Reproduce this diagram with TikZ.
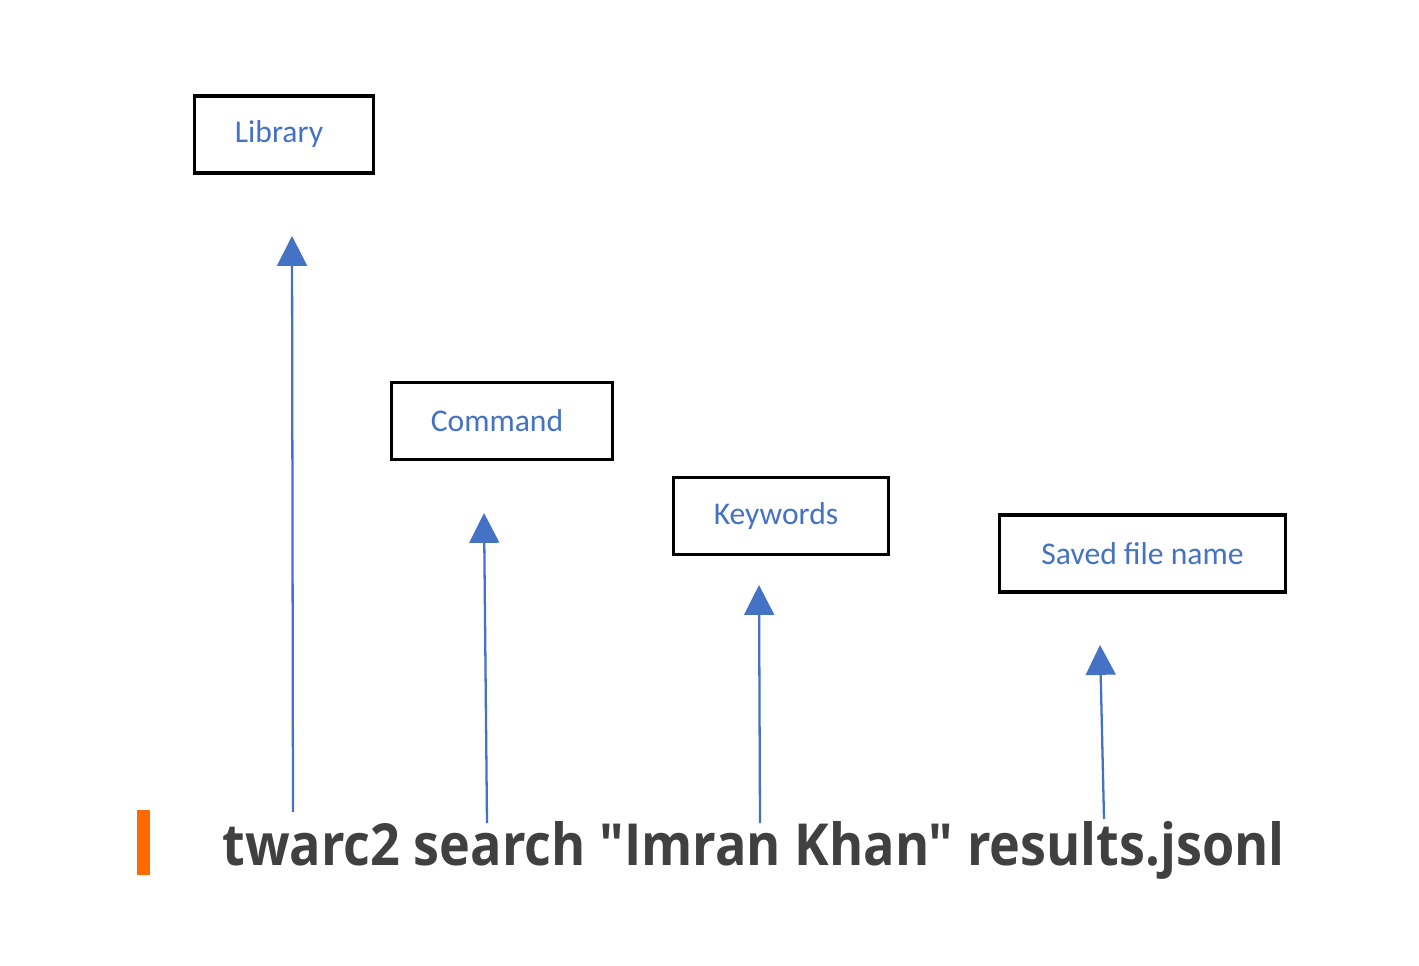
\documentclass[tikz,border=0pt]{standalone}
\usepackage{fontspec}
\setmainfont{Carlito}
\newfontfamily\cmdfont{Open Sans}
\usepackage{tikz}
\usetikzlibrary{arrows.meta,positioning}
\definecolor{labelblue}{RGB}{68,114,196}
\definecolor{cmdgray}{RGB}{64,64,64}
\definecolor{cursor}{RGB}{255,106,0}
\tikzset{
  partbox/.style={draw=black,line width=1.8pt,text=labelblue,font=\fontsize{18}{21}\selectfont,
    inner sep=0pt,minimum height=1.54cm},
  partarrow/.style={draw=labelblue,line width=1.3pt,-{Triangle[width=17pt,length=17pt]}}
}
\begin{document}
\begin{tikzpicture}[x=0.02cm,y=-0.02cm]
        \useasboundingbox (0,0) rectangle (1419,966);
        % Las cuatro partes de la orden, cada una con su flecha.
        \node[partbox,minimum width=3.58cm] (lib) at (284,134.5) {Library\kern0.2cm};
        \node[partbox,minimum width=4.42cm] (cmd) at (502,421) {Command\kern0.2cm};
        \node[partbox,minimum width=4.30cm] (kw) at (781,516) {Keywords\kern0.2cm};
        \node[partbox,minimum width=5.72cm] (out) at (1142.5,553.5) {Saved file name};
        \fill[cursor] (137,810) rectangle (150,875);
        \node[anchor=base west,inner sep=0pt,text=cmdgray,font=\cmdfont\bfseries\fontsize{33}{40}\selectfont]
          (line) at (222,865) {\scalebox{0.9}[1]{twarc2 search "Imran Khan" results.jsonl}};
        \coordinate (lib0) at (293,812);  \coordinate (lib1) at (292,236);
        \coordinate (cmd0) at (487,823);  \coordinate (cmd1) at (484,513);
        \coordinate (kw0) at (760,823);   \coordinate (kw1) at (759,585);
        \coordinate (out0) at (1104,819); \coordinate (out1) at (1100,645);
        \foreach \p in {lib,cmd,kw,out}
          \draw[partarrow] (\p0) -- (\p1);
      \end{tikzpicture}
\end{document}
